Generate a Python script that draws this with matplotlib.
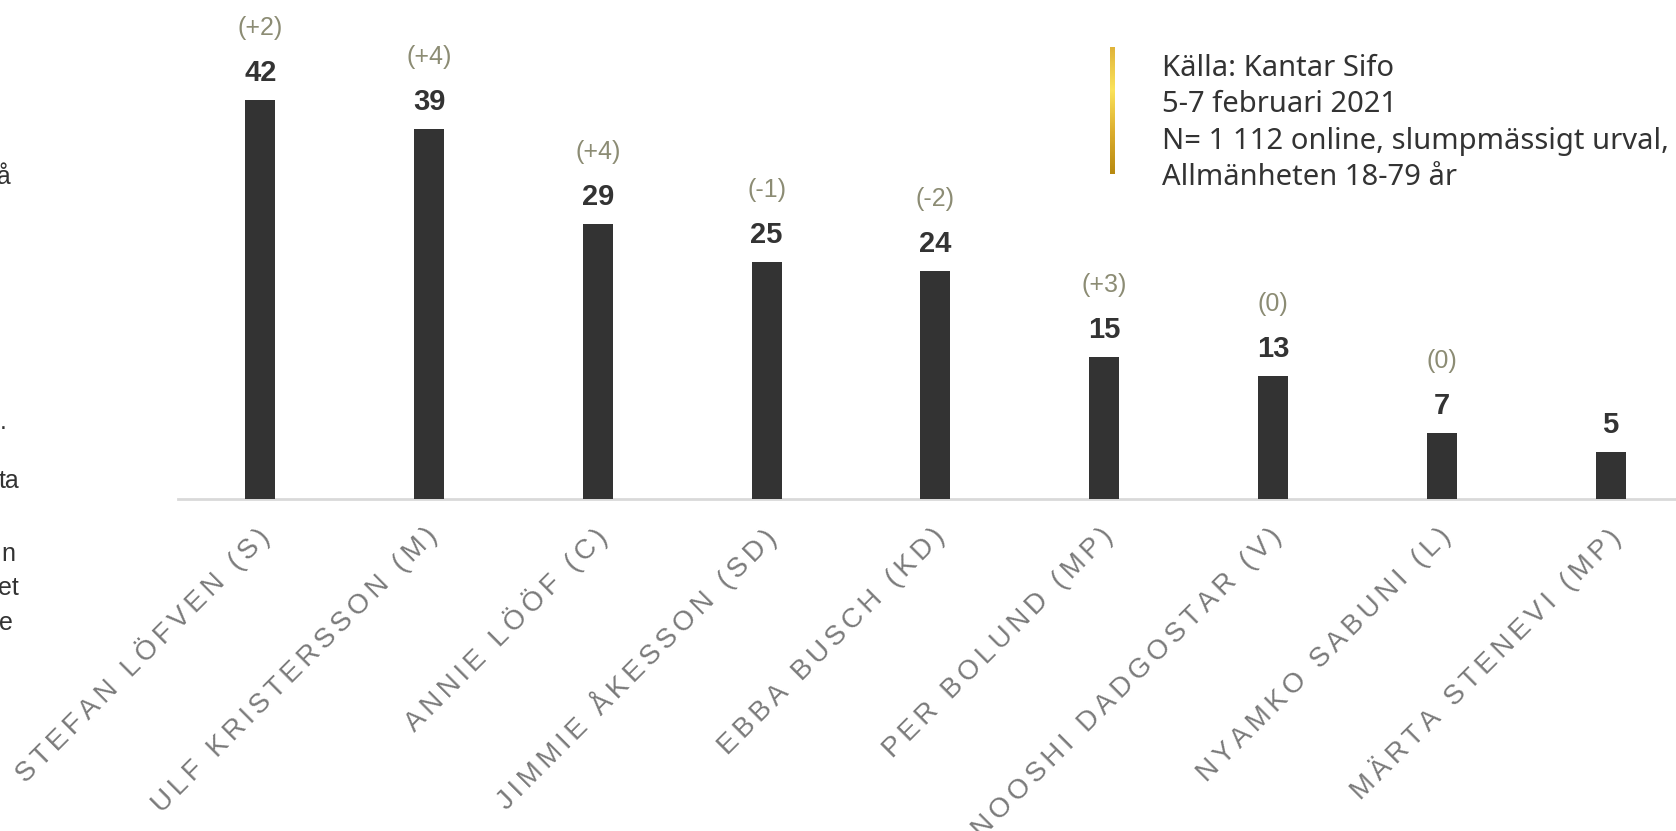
import numpy as np
import matplotlib
matplotlib.use("Agg")
import matplotlib.pyplot as plt
from matplotlib.colors import LinearSegmentedColormap

# ── data ────────────────────────────────────────────────────
leaders = ["STEFAN LÖFVEN (S)", "ULF KRISTERSSON (M)", "ANNIE LÖÖF (C)",
           "JIMMIE ÅKESSON (SD)", "EBBA BUSCH (KD)", "PER BOLUND (MP)",
           "NOOSHI DADGOSTAR (V)", "NYAMKO SABUNI (L)", "MÄRTA STENEVI (MP)"]
values = [42, 39, 29, 25, 24, 15, 13, 7, 5]
changes = ["(+2)", "(+4)", "(+4)", "(-1)", "(-2)", "(+3)", "(0)", "(0)", ""]

source_lines = ["Källa: Kantar Sifo", "5-7 februari 2021",
                "N= 1 112 online, slumpmässigt urval,", "Allmänheten 18-79 år"]

# clipped fragments of a text box that sits left of the canvas
side_text = [("på", 11, 176), (".", 7, 422), ("ta", 19, 481),
             ("n", 15, 554), ("et", 19, 588), ("e", 13, 623)]

BAR_COLOR = "#333333"
CHANGE_COLOR = "#8c8c74"
LABEL_COLOR = "#7a7a7a"

W, H = 1676, 831
fig = plt.figure(figsize=(W / 100, H / 100), dpi=100)

# axes placed in pixel terms: baseline at y=499, 9.49 px per unit
left_px = 178
base_px = 499
ppu = 9.49
ymax = 50
ax = fig.add_axes([left_px / W, (H - base_px) / H, (W - left_px) / W, ymax * ppu / H])

x = np.arange(len(values))
ax.bar(x, values, width=0.178, color=BAR_COLOR, zorder=3)
ax.set_xlim(-0.487, len(values) - 1 + 0.387)
ax.set_ylim(0, ymax)

for s in ["top", "right", "left"]:
    ax.spines[s].set_visible(False)
ax.spines["bottom"].set_color("#d9d9d9")
ax.spines["bottom"].set_linewidth(2)
ax.set_yticks([])

# letter-spaced category labels (six-per-em space between letters)
spaced = ["\u2006".join(lbl) for lbl in leaders]
ax.set_xticks(x + 0.03)
ax.set_xticklabels(spaced, rotation=45, ha="right", va="center",
                   rotation_mode="anchor", fontsize=20, color=LABEL_COLOR,
                   family=["Liberation Sans", "DejaVu Sans"])
ax.tick_params(axis="x", length=0, pad=24)

for xi, v, c in zip(x, values, changes):
    ax.annotate(str(v), (xi, v), xytext=(0, 27), textcoords="offset pixels",
                ha="center", va="center", fontsize=21, fontweight="bold",
                color=BAR_COLOR, family="Liberation Sans")
    if c:
        ax.annotate(c, (xi, v), xytext=(0, 72), textcoords="offset pixels",
                    ha="center", va="center", fontsize=18,
                    color=CHANGE_COLOR, family="Liberation Sans")

# source box with gold gradient bar
grad = LinearSegmentedColormap.from_list(
    "gold", ["#e0b43a", "#fbe35a", "#dcae2e", "#b88a10"])
gax = fig.add_axes([1110 / W, (H - 174) / H, 5 / W, 127 / H])
gax.imshow(np.linspace(0, 1, 100).reshape(-1, 1), aspect="auto", cmap=grad)
gax.axis("off")

for i, line in enumerate(source_lines):
    fig.text(1162 / W, 1 - (68 + i * 36.5) / H, line, ha="left", va="center",
             fontsize=21, color="#333333", family="Noto Sans")

for txt, xr, ypx in side_text:
    fig.text(xr / W, 1 - ypx / H, txt, ha="right", va="center",
             fontsize=18, color="#333333", family="Liberation Sans")

fig.savefig("out.png", dpi=100)
